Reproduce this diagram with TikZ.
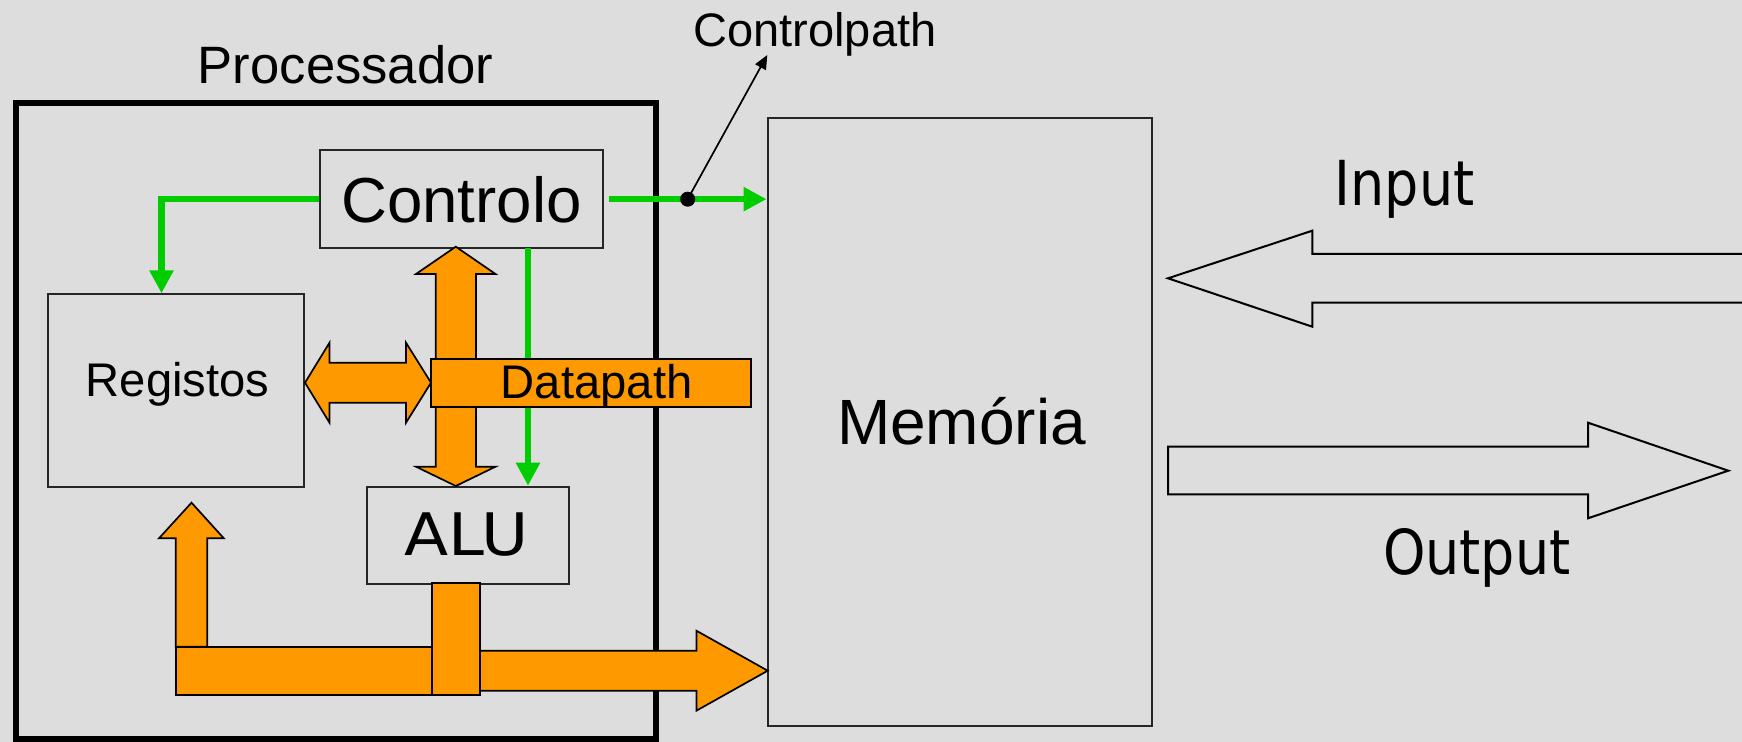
\documentclass[tikz,border=0pt]{standalone}
\usepackage{fontspec}
\setmainfont{Liberation Sans}
\newfontfamily\tahfont[FakeStretch=0.87]{DejaVu Sans}
\newfontfamily\verdfont[FakeStretch=1.1]{DejaVu Sans}
\usetikzlibrary{arrows.meta,fit,calc}
\definecolor{bg}{HTML}{DDDDDD}
\definecolor{orng}{HTML}{FF9900}
\definecolor{grn}{HTML}{00CC00}
\newcommand{\fs}[1]{\fontsize{#1}{#1}\selectfont}
\begin{document}
\begin{tikzpicture}[x=0.5pt,y=-0.5pt,
  box/.style={draw=black!85,line width=1pt,inner sep=0pt},
  lbl/.style={anchor=base,inner sep=0pt},
  gline/.style={draw=grn,line width=3.2pt,-{Triangle[length=11.5pt,width=11.5pt]}},
  oshape/.style={draw=black,line width=0.85pt,fill=orng,line join=miter},
  hollow/.style={draw=black,line width=1pt,line join=miter}]
\fill[bg] (0,0) rectangle (1742,742);
\useasboundingbox (0,0) rectangle (1742,742);
% boxes
\node[box,draw=black,line width=3pt,fit={(15.6,102.7)(655.8,739)}] (proc) {};
\node[box,fit={(319.6,150)(602.7,248.3)}] (controlo) {};
\node[box,fit={(47.8,294.3)(304,486.7)}] (registos) {};
\node[box,fit={(367,486.7)(568.7,584.3)}] (alu) {};
\node[box,fit={(767.5,118)(1152,726)}] (memoria) {};
% green control lines
\coordinate (gl) at (161.5,0);
\draw[gline] (controlo.west) -| (gl |- registos.north);
\draw[gline] ([xshift=2.5pt]controlo.east) -- (controlo.east -| memoria.west);
\coordinate (gd) at (528,248.3);
\draw[gline] (gd) -- (gd |- alu.north);
% orange double arrows
\draw[oshape] (455.8,246.7) -- (495.5,274) -- (475.9,274) -- (475.9,466.7) -- (495.5,466.7) -- (455.8,486) -- (416,466.7) -- (435.7,466.7) -- (435.7,274) -- (416,274) -- cycle;
\draw[oshape] (305,382.7) -- (329.5,342.7) -- (329.5,362.7) -- (406,362.7) -- (406,342.7) -- (431,382.7) -- (406,422.7) -- (406,402.7) -- (329.5,402.7) -- (329.5,422.7) -- cycle;
\node[box,draw=black,fill=orng,fit={(431,359)(751,406.7)}] (datapath) {};
% bottom datapath
\draw[oshape] (175.7,646.7) -- (175.7,538.3) -- (159,538.3) -- (191.5,502.7) -- (223.8,538.3) -- (207.2,538.3) -- (207.2,646.7) -- cycle;
\draw[oshape] (175.7,646.7) rectangle (432,695);
\draw[oshape] (470,650.7) -- (696.4,650.7) -- (696.4,630.7) -- (767.7,670.7) -- (696.4,710.7) -- (696.4,690.7) -- (470,690.7) -- cycle;
\draw[oshape] (432,582.7) rectangle (480,695);
% controlpath pointer
\node[circle,fill=black,minimum size=7.5pt,inner sep=0pt] (dot) at (687.7,199.2) {};
\coordinate (cptip) at (767.3,55);
\draw[line width=0.85pt,-{Triangle[length=7pt,width=6pt]}] (dot.center) -- (cptip);
% input / output arrows
\draw[hollow] (1760,254) -- (1312.3,254) -- (1312.3,230.7) -- (1168,278.3) -- (1312.3,326.7) -- (1312.3,302.7) -- (1760,302.7);
\draw[hollow] (1168,446.7) -- (1588,446.7) -- (1588,422.7) -- (1728.3,470.7) -- (1588,518.3) -- (1588,494.3) -- (1168,494.3) -- cycle;
% texts
\node[lbl,font=\fs{26.3pt}] (tproc) at (345.5,83.3) {Processador};
\node[lbl,font=\fs{23.5pt}] (tcp) at (815,46.7) {Controlpath};
\node[lbl,font=\fs{31.8pt}] (tctrl) at (461.4,222.7) {Controlo};
\node[lbl,font=\fs{32pt}] (tmem) at (961.5,444.3) {Memória};
\node[lbl,font=\fs{23.6pt}] (treg) at (177.5,396.7) {Registos};
\node[lbl,font=\fs{23.6pt}] (tdp) at (596.7,398.3) {Datapath};
\node[lbl,font=\verdfont\fs{29.3pt}] (talu) at (466.7,556) {ALU};
\node[lbl,font=\tahfont\fs{31pt}] (tin) at (1404.5,205.7) {Input};
\node[lbl,font=\tahfont\fs{31pt}] (tout) at (1476.7,575) {Output};
\end{tikzpicture}
\end{document}
